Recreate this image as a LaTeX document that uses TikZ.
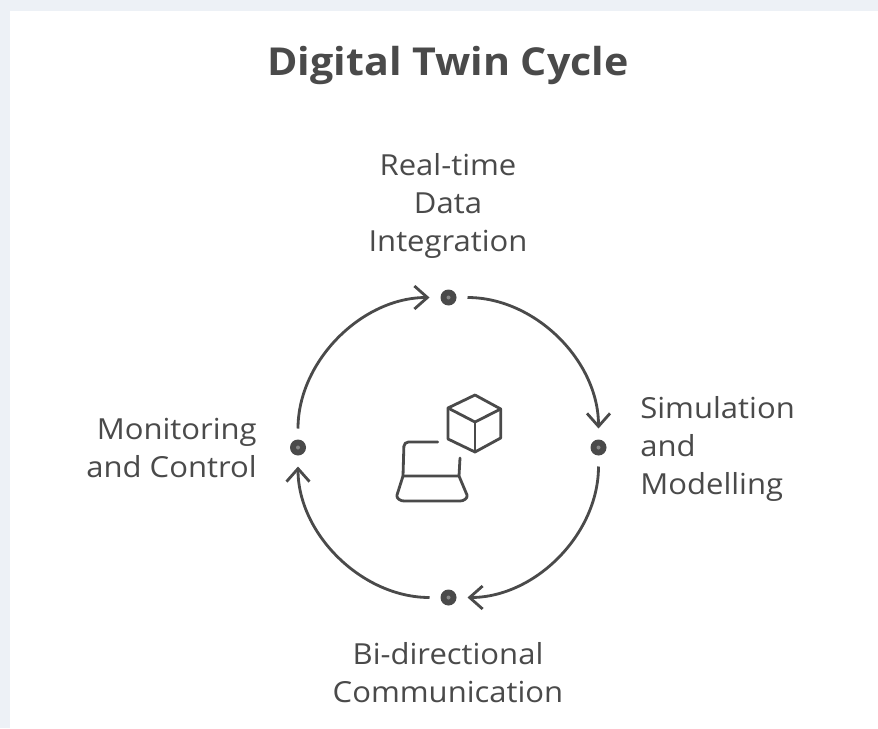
\documentclass[tikz,border=0pt]{standalone}
\usepackage{fontspec}
\setmainfont[FakeStretch=1.07]{Open Sans}
\usetikzlibrary{arrows.meta}
\definecolor{mypaper}{RGB}{237,241,246}
\definecolor{myink}{RGB}{74,74,74}
\definecolor{mydot}{RGB}{135,135,135}
\tikzset{
    stagedot/.style={circle,fill=myink,minimum size=0.32cm,inner sep=0pt,outer sep=0pt},
    stagetext/.style={text=myink,font=\fontsize{16.5}{21.6}\selectfont,inner sep=0pt},
    cyclearrow/.style={-{Straight Barb[length=0.26cm,width=0.46cm]},myink,line width=1.6pt,shorten <=0.22cm,shorten >=0.22cm},
    iconline/.style={myink,line width=1.6pt,line join=round,line cap=round}
}
\begin{document}
\begin{tikzpicture}[x=0.02cm,y=0.02cm]
    \fill[mypaper] (0,0) rectangle (878,728);
    \fill[white] (10,0) rectangle (878,717);
    \useasboundingbox (0,0) rectangle (878,728);
    % title
    \node[text=myink,font=\fontsize{21.9}{25}\selectfont\bfseries] (title) at (448,662) {Digital Twin Cycle};
    % the four stages
    \node[stagedot] (top) at (448.5,430.5) {};
    \node[stagedot] (right) at (598.5,280.5) {};
    \node[stagedot] (bottom) at (448.5,130.5) {};
    \node[stagedot] (left) at (298,280.5) {};
    \fill[mydot] (top) circle (2);
    \fill[mydot] (right) circle (2);
    \fill[mydot] (bottom) circle (2);
    \fill[mydot] (left) circle (2);
    \node[stagetext,align=center] (toplabel) at (448,522) {Real-time\\Data\\Integration};
    \node[stagetext,align=left,anchor=west] (rightlabel) at (640,279) {Simulation\\and\\Modelling};
    \node[stagetext,align=center] (bottomlabel) at (448,55) {Bi-directional\\Communication};
    \node[stagetext,align=right,anchor=east] (leftlabel) at (257,280) {Monitoring\\and Control};
    % arcs
    \draw[cyclearrow] (top) to[out=0,in=90] (right);
    \draw[cyclearrow] (right) to[out=-90,in=0] (bottom);
    \draw[cyclearrow] (bottom) to[out=180,in=-90] (left);
    \draw[cyclearrow] (left) to[out=90,in=180] (top);
    % cube
    \draw[iconline] (475,333)--(500.7,319)--(500.7,290)--(475,276)--(448,289)--(448,320)--cycle;
    \draw[iconline] (448,320)--(475,306)--(500.7,319);
    \draw[iconline] (475,306)--(475,276);
    % laptop
    \draw[iconline,rounded corners=2.5] (437.7,286)--(404,286)--(403,252);
    \draw[iconline] (460,270)--(459,252);
    \draw[iconline] (403,252)--(459,252)--(467,233) to[out=-75,in=0] (460,227)--(404,227) to[out=180,in=-105] (397,233)--cycle;
\end{tikzpicture}
\end{document}
